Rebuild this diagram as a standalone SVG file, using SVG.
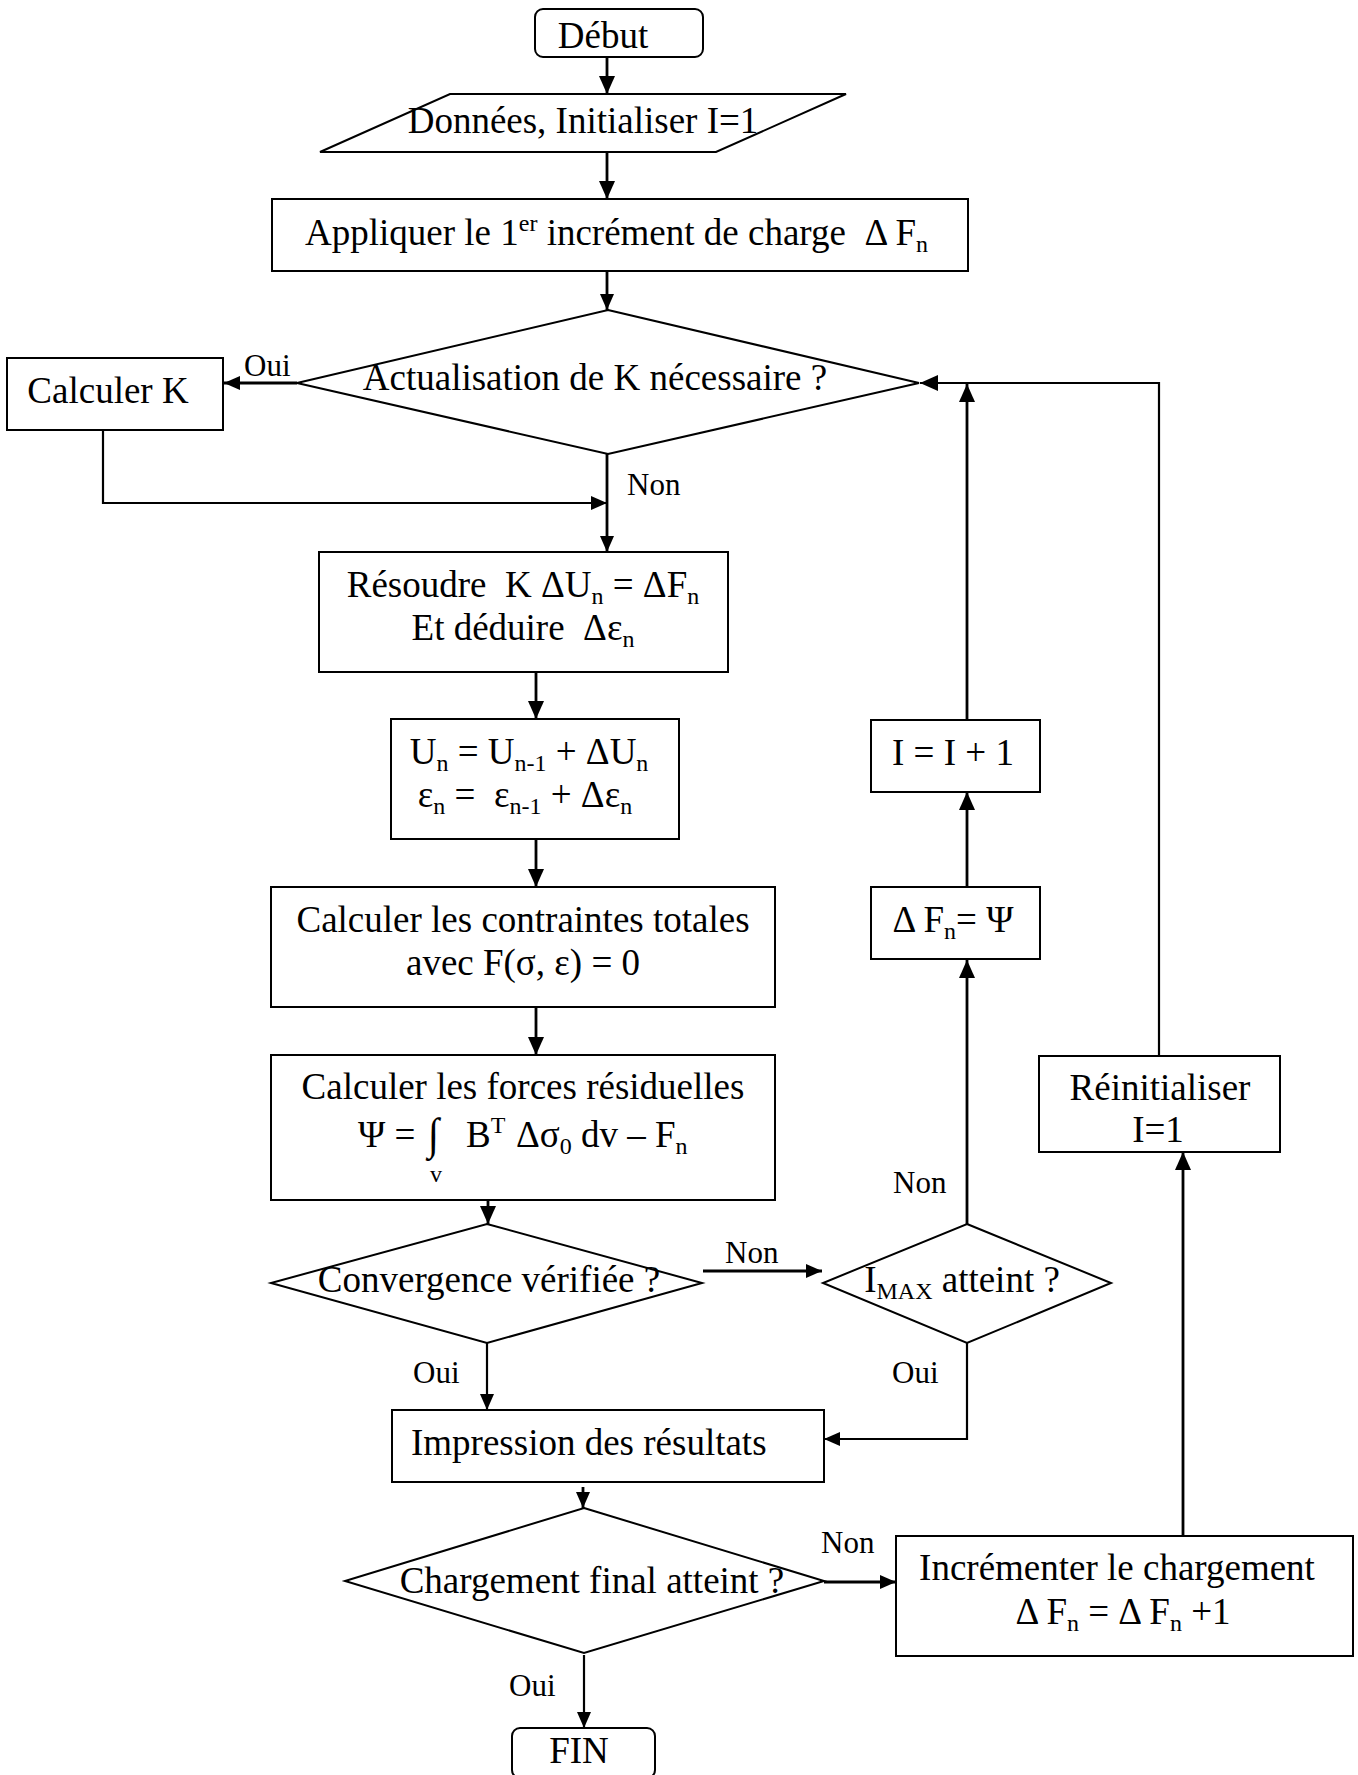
<svg xmlns="http://www.w3.org/2000/svg" width="1358" height="1775" viewBox="0 0 1358 1775">
  <style>
    .box { fill: #fff; stroke: #000; stroke-width: 2; }
    .t { font-family: "Liberation Serif", "Times New Roman", serif; font-size: 37px; fill: #000; }
    .lbl { font-family: "Liberation Serif", "Times New Roman", serif; font-size: 31px; fill: #000; }
    .sub { font-size: 24px; }
    .mid { text-anchor: middle; }
    .conn { fill: none; stroke: #000; stroke-width: 2.8; }
    .thin { fill: none; stroke: #000; stroke-width: 2.2; }
  </style>
  <defs>
    <marker id="arr" markerUnits="userSpaceOnUse" viewBox="0 0 18 16" markerWidth="18" markerHeight="16" refX="18" refY="8" orient="auto">
      <path d="M0,0 L18,8 L0,16 z" fill="#000"/>
    </marker>
    <marker id="arrS" markerUnits="userSpaceOnUse" viewBox="0 0 16 14" markerWidth="16" markerHeight="14" refX="16" refY="7" orient="auto">
      <path d="M0,0 L16,7 L0,14 z" fill="#000"/>
    </marker>
  </defs>

  <rect width="1358" height="1775" fill="#fff"/>

  <!-- connectors -->
  <g id="connectors">
    <path class="conn" d="M607,57 L607,94" marker-end="url(#arr)"/>
    <path class="conn" d="M607,152 L607,199" marker-end="url(#arr)"/>
    <path class="conn" d="M607,271 L607,310" marker-end="url(#arrS)"/>
    <path class="conn" d="M297,383 L224,383" marker-end="url(#arrS)"/>
    <path class="thin" d="M103,430 L103,503 L607,503" marker-end="url(#arrS)"/>
    <path class="conn" d="M607,454 L607,552" marker-end="url(#arrS)"/>
    <path class="conn" d="M536,672 L536,719" marker-end="url(#arr)"/>
    <path class="conn" d="M536,839 L536,887" marker-end="url(#arr)"/>
    <path class="conn" d="M536,1007 L536,1055" marker-end="url(#arr)"/>
    <path class="conn" d="M488,1200 L488,1224" marker-end="url(#arr)"/>
    <path class="conn" d="M703,1271 L822,1271" marker-end="url(#arrS)"/>
    <path class="conn" d="M967,1224 L967,960" marker-end="url(#arr)"/>
    <path class="conn" d="M967,887 L967,792" marker-end="url(#arr)"/>
    <path class="conn" d="M967,720 L967,384" marker-end="url(#arr)"/>
    <path class="thin" d="M1159,1056 L1159,383 L920,383" marker-end="url(#arr)"/>
    <path class="thin" d="M487,1343 L487,1410" marker-end="url(#arrS)"/>
    <path class="thin" d="M967,1343 L967,1439 L824,1439" marker-end="url(#arrS)"/>
    <path class="conn" d="M583,1487 L583,1508" marker-end="url(#arrS)"/>
    <path class="conn" d="M824,1582 L896,1582" marker-end="url(#arrS)"/>
    <path class="thin" d="M584,1655 L584,1728" marker-end="url(#arrS)"/>
    <path class="conn" d="M1183,1536 L1183,1152" marker-end="url(#arr)"/>
  </g>

  <!-- start -->
  <g id="debut">
    <rect class="box" x="535" y="9" width="168" height="48" rx="8"/>
    <text class="t mid" x="603" y="48">Début</text>
  </g>

  <!-- input data -->
  <g id="donnees">
    <polygon class="box" points="450,94 846,94 716,152 320,152"/>
    <text class="t mid" x="583" y="133">Données, Initialiser I=1</text>
  </g>

  <g id="appliquer">
    <rect class="box" x="272" y="199" width="696" height="72"/>
    <text class="t" x="305" y="245" xml:space="preserve">Appliquer le 1<tspan class="sub" dy="-14">er</tspan><tspan dy="14"> incrément de charge  Δ F</tspan><tspan class="sub" dy="7">n</tspan></text>
  </g>

  <g id="actualisation">
    <polygon class="box" points="608,310 919,383 608,454 297,383"/>
    <text class="t mid" x="595" y="390">Actualisation de K nécessaire ?</text>
  </g>

  <g id="calculer-k">
    <rect class="box" x="7" y="358" width="216" height="72"/>
    <text class="t mid" x="108" y="403">Calculer K</text>
  </g>

  <g id="resoudre">
    <rect class="box" x="319" y="552" width="409" height="120"/>
    <text class="t mid" x="523" y="597" xml:space="preserve">Résoudre  K ΔU<tspan class="sub" dy="7">n</tspan><tspan dy="-7"> = ΔF</tspan><tspan class="sub" dy="7">n</tspan></text>
    <text class="t mid" x="523" y="640" xml:space="preserve">Et déduire  Δε<tspan class="sub" dy="7">n</tspan></text>
  </g>

  <g id="mise-a-jour">
    <rect class="box" x="391" y="719" width="288" height="120"/>
    <text class="t mid" x="529" y="764" xml:space="preserve">U<tspan class="sub" dy="7">n</tspan><tspan dy="-7"> = U</tspan><tspan class="sub" dy="7">n-1</tspan><tspan dy="-7"> + ΔU</tspan><tspan class="sub" dy="7">n</tspan></text>
    <text class="t mid" x="525" y="807" xml:space="preserve">ε<tspan class="sub" dy="7">n</tspan><tspan dy="-7"> =  ε</tspan><tspan class="sub" dy="7">n-1</tspan><tspan dy="-7"> + Δε</tspan><tspan class="sub" dy="7">n</tspan></text>
  </g>

  <g id="contraintes">
    <rect class="box" x="271" y="887" width="504" height="120"/>
    <text class="t mid" x="523" y="932">Calculer les contraintes totales</text>
    <text class="t mid" x="523" y="975">avec F(σ, ε) = 0</text>
  </g>

  <g id="forces">
    <rect class="box" x="271" y="1055" width="504" height="145"/>
    <text class="t mid" x="523" y="1099">Calculer les forces résiduelles</text>
    <text class="t" x="358" y="1147">Ψ =</text>
    <!-- integral sign, stretched vertically -->
    <text class="t" transform="translate(428,1149) scale(1.1,1.2)" font-size="40">∫</text>
    <text class="t sub" x="430" y="1182">v</text>
    <text class="t" x="466" y="1147">B<tspan class="sub" dy="-14">T</tspan></text>
    <text class="t" x="516" y="1147">Δσ<tspan class="sub" dy="7">0</tspan><tspan dy="-7"> dv – F</tspan><tspan class="sub" dy="7">n</tspan></text>
  </g>

  <g id="convergence">
    <polygon class="box" points="487,1224 702,1283 487,1343 271,1283"/>
    <text class="t mid" x="489" y="1292">Convergence vérifiée ?</text>
  </g>

  <g id="imax">
    <polygon class="box" points="967,1224 1111,1283 967,1343 823,1283"/>
    <text class="t mid" x="962" y="1292">I<tspan class="sub" dy="7">MAX</tspan><tspan dy="-7"> atteint ?</tspan></text>
  </g>

  <g id="delta-f">
    <rect class="box" x="871" y="887" width="169" height="72"/>
    <text class="t mid" x="953" y="932">Δ F<tspan class="sub" dy="7">n</tspan><tspan dy="-7">= Ψ</tspan></text>
  </g>

  <g id="increment-i">
    <rect class="box" x="871" y="720" width="169" height="72"/>
    <text class="t mid" x="953" y="765">I = I + 1</text>
  </g>

  <g id="reinitialiser">
    <rect class="box" x="1039" y="1056" width="241" height="96"/>
    <text class="t mid" x="1160" y="1100">Réinitialiser</text>
    <text class="t mid" x="1158" y="1142">I=1</text>
  </g>

  <g id="impression">
    <rect class="box" x="392" y="1410" width="432" height="72"/>
    <text class="t" x="411" y="1455">Impression des résultats</text>
  </g>

  <g id="chargement">
    <polygon class="box" points="584,1508 824,1581 584,1653 345,1581"/>
    <text class="t mid" x="592" y="1593">Chargement final atteint ?</text>
  </g>

  <g id="incrementer">
    <rect class="box" x="896" y="1536" width="457" height="120"/>
    <text class="t mid" x="1117" y="1580">Incrémenter le chargement</text>
    <text class="t mid" x="1123" y="1624">Δ F<tspan class="sub" dy="7">n</tspan><tspan dy="-7"> = Δ F</tspan><tspan class="sub" dy="7">n</tspan><tspan dy="-7"> +1</tspan></text>
  </g>

  <g id="fin">
    <rect class="box" x="512" y="1728" width="143" height="50" rx="8"/>
    <text class="t mid" x="579" y="1763">FIN</text>
  </g>

  <!-- branch labels -->
  <g id="labels">
    <text class="lbl" x="244" y="376">Oui</text>
    <text class="lbl" x="627" y="495">Non</text>
    <text class="lbl" x="725" y="1263">Non</text>
    <text class="lbl" x="893" y="1193">Non</text>
    <text class="lbl" x="413" y="1383">Oui</text>
    <text class="lbl" x="892" y="1383">Oui</text>
    <text class="lbl" x="821" y="1553">Non</text>
    <text class="lbl" x="509" y="1696">Oui</text>
  </g>
</svg>
